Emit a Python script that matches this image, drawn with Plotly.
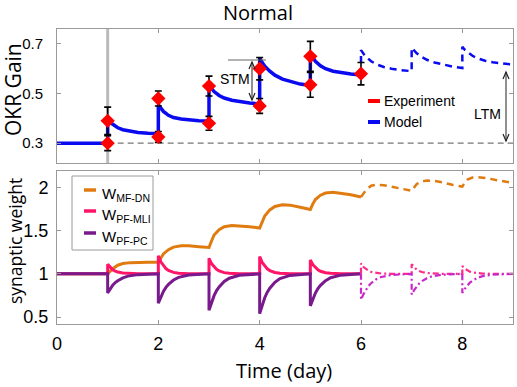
import plotly.graph_objects as go

# ---------------- data ----------------
x_ticks = [0, 2, 4, 6, 8]
gain_ticks = [0.3, 0.5, 0.7]
weight_ticks = [0.5, 1, 1.5, 2]

# experiment (mean +- error), pre/post training each day
exp_day = [1, 1, 2, 2, 3, 3, 4, 4, 5, 5, 6]
exp_gain = [0.30, 0.39, 0.325, 0.48, 0.38, 0.53, 0.45, 0.60, 0.535, 0.65, 0.58]
exp_err = [0.03, 0.055, 0.022, 0.03, 0.028, 0.04, 0.03, 0.045, 0.05, 0.06, 0.045]

# model OKR gain: baseline, then one sampled profile per day
gain_base_day = [0, 1]
gain_base = [0.30, 0.30]
gain_offsets = [0, 0.05, 0.1, 0.2, 0.3, 0.45, 0.6, 0.8, 1.0]
gain_train_days = [1, 2, 3, 4, 5]
gain_train = [
    [0.390, 0.383, 0.375, 0.362, 0.354, 0.347, 0.343, 0.340, 0.338],
    [0.455, 0.440, 0.428, 0.412, 0.403, 0.397, 0.393, 0.390, 0.389],
    [0.535, 0.520, 0.508, 0.492, 0.482, 0.473, 0.467, 0.462, 0.458],
    [0.643, 0.625, 0.610, 0.590, 0.574, 0.558, 0.548, 0.538, 0.532],
    [0.665, 0.645, 0.630, 0.612, 0.600, 0.590, 0.584, 0.579, 0.575],
]
gain_pred_days = [6, 7, 8]
gain_pred = [
    [0.675, 0.660, 0.648, 0.630, 0.618, 0.607, 0.600, 0.594, 0.590],
    [0.684, 0.672, 0.662, 0.647, 0.636, 0.625, 0.617, 0.609, 0.603],
    [0.688, 0.676, 0.667, 0.652, 0.642, 0.632, 0.626, 0.620, 0.616],
]

# synaptic weights
w_base_day = [0, 1]
w_base = [1.0, 1.0]
mf_offsets = [0, 0.05, 0.1, 0.2, 0.3, 0.45, 0.6, 0.8, 1.0]
mf_train = [
    [1.000, 1.030, 1.060, 1.100, 1.120, 1.130, 1.135, 1.135, 1.135],
    [1.135, 1.180, 1.230, 1.280, 1.310, 1.325, 1.325, 1.315, 1.305],
    [1.305, 1.380, 1.450, 1.510, 1.545, 1.560, 1.555, 1.545, 1.530],
    [1.530, 1.600, 1.670, 1.740, 1.780, 1.800, 1.795, 1.770, 1.745],
    [1.745, 1.810, 1.860, 1.910, 1.935, 1.945, 1.935, 1.915, 1.890],
]
mf_pred = [
    [1.890, 1.930, 1.970, 2.020, 2.030, 2.025, 2.010, 1.985, 1.960],
    [1.960, 2.000, 2.040, 2.070, 2.080, 2.075, 2.060, 2.030, 2.010],
    [2.010, 2.060, 2.090, 2.115, 2.120, 2.110, 2.095, 2.075, 2.050],
]
fast_offsets = [0, 0.05, 0.1, 0.15, 0.2, 0.3, 0.4, 0.6, 1.0]
mli_train = [
    [1.11, 1.073, 1.048, 1.032, 1.021, 1.009, 1.004, 1.001, 1.0],
    [1.21, 1.139, 1.092, 1.061, 1.040, 1.017, 1.007, 1.001, 1.0],
    [1.18, 1.119, 1.079, 1.052, 1.034, 1.014, 1.006, 1.001, 1.0],
    [1.20, 1.132, 1.088, 1.058, 1.038, 1.016, 1.007, 1.001, 1.0],
    [1.16, 1.106, 1.070, 1.046, 1.030, 1.013, 1.006, 1.001, 1.0],
]
mli_pred = [
    [1.12, 1.079, 1.053, 1.035, 1.023, 1.010, 1.004, 1.001, 1.0],
    [1.11, 1.073, 1.048, 1.032, 1.021, 1.009, 1.004, 1.001, 1.0],
    [1.09, 1.059, 1.040, 1.026, 1.017, 1.007, 1.003, 1.001, 1.0],
]
pc_train = [
    [0.78, 0.828, 0.868, 0.899, 0.921, 0.954, 0.974, 0.991, 1.0],
    [0.66, 0.735, 0.796, 0.844, 0.878, 0.929, 0.959, 0.986, 1.0],
    [0.58, 0.672, 0.748, 0.807, 0.849, 0.912, 0.950, 0.983, 1.0],
    [0.54, 0.641, 0.724, 0.788, 0.834, 0.903, 0.945, 0.982, 1.0],
    [0.63, 0.711, 0.778, 0.830, 0.867, 0.922, 0.956, 0.985, 1.0],
]
pc_pred = [
    [0.70, 0.766, 0.820, 0.862, 0.892, 0.937, 0.964, 0.988, 1.0],
    [0.76, 0.813, 0.856, 0.890, 0.914, 0.950, 0.971, 0.990, 1.0],
    [0.78, 0.828, 0.868, 0.899, 0.921, 0.954, 0.974, 0.991, 1.0],
]


def build(days, offsets, profiles, start_x=None, start_y=None):
    xs, ys = [], []
    if start_x is not None:
        xs += list(start_x)
        ys += list(start_y)
    for d, prof in zip(days, profiles):
        xs += [d + o for o in offsets]
        ys += list(prof)
    return xs, ys


BLUE = "#0A0AF0"
RED = "#FF0000"
ORANGE = "#E07B10"
PINK = "#FF1468"
PURPLE = "#781A8C"
PINK2 = "#FF2A8A"
PURPLE2 = "#C828C8"
GRID = "#9a9a9a"

fig = go.Figure()

# top panel
gx, gy = build(gain_train_days, gain_offsets, gain_train, gain_base_day, gain_base)
fig.add_trace(go.Scatter(x=gx, y=gy, mode="lines", line=dict(color=BLUE, width=3.5),
                         xaxis="x", yaxis="y", showlegend=False, hoverinfo="skip"))
px_, py_ = build(gain_pred_days, gain_offsets, gain_pred, [gx[-1]], [gy[-1]])
fig.add_trace(go.Scatter(x=px_, y=py_, mode="lines",
                         line=dict(color=BLUE, width=2.5, dash="7px,5px"),
                         xaxis="x", yaxis="y", showlegend=False, hoverinfo="skip"))
fig.add_trace(go.Scatter(x=exp_day, y=exp_gain, mode="markers",
                         marker=dict(symbol="diamond", size=11, color=RED),
                         error_y=dict(type="data", array=exp_err, color="black",
                                      thickness=1.6, width=3.5),
                         xaxis="x", yaxis="y", showlegend=False))

# bottom panel
mx, my = build(gain_train_days, mf_offsets, mf_train, w_base_day, w_base)
fig.add_trace(go.Scatter(x=mx, y=my, mode="lines", line=dict(color=ORANGE, width=3),
                         xaxis="x2", yaxis="y2", showlegend=False))
mpx, mpy = build(gain_pred_days, mf_offsets, mf_pred, [mx[-1]], [my[-1]])
fig.add_trace(go.Scatter(x=mpx, y=mpy, mode="lines",
                         line=dict(color=ORANGE, width=2.5, dash="7px,5px"),
                         xaxis="x2", yaxis="y2", showlegend=False))
lx, ly = build(gain_train_days, fast_offsets, mli_train, w_base_day, w_base)
fig.add_trace(go.Scatter(x=lx, y=ly, mode="lines", line=dict(color=PINK, width=3),
                         xaxis="x2", yaxis="y2", showlegend=False))
cx, cy = build(gain_train_days, fast_offsets, pc_train, w_base_day, w_base)
fig.add_trace(go.Scatter(x=cx, y=cy, mode="lines", line=dict(color=PURPLE, width=3),
                         xaxis="x2", yaxis="y2", showlegend=False))
lpx, lpy = build(gain_pred_days, fast_offsets, mli_pred, [6], [1.0])
fig.add_trace(go.Scatter(x=lpx, y=lpy, mode="lines",
                         line=dict(color=PINK2, width=2.2, dash="6px,3px,2px,3px"),
                         xaxis="x2", yaxis="y2", showlegend=False))
cpx, cpy = build(gain_pred_days, fast_offsets, pc_pred, [6], [1.0])
fig.add_trace(go.Scatter(x=cpx + [9], y=cpy + [1.0], mode="lines",
                         line=dict(color=PURPLE2, width=2.2, dash="6px,3px,2px,3px"),
                         xaxis="x2", yaxis="y2", showlegend=False))

# ---------------- layout ----------------
L, R, T, B = 57, 513, 29, 324
W, H = 517, 387


def PX(p):
    return (p - L) / (R - L)


def PY(p):
    return (B - p) / (B - T)


TXT = "Liberation Sans, Arial"
TTL = "Open Sans"
axis_common = dict(showline=True, mirror="ticks", linecolor=GRID, linewidth=1,
                   ticks="inside", ticklen=4, tickcolor=GRID, showgrid=False,
                   zeroline=False, automargin=False)
top_dom = [PY(163), 1]
bot_dom = [0, PY(171)]

fig.update_layout(
    width=W, height=H,
    margin=dict(l=L, r=W - R, t=T, b=H - B, autoexpand=False),
    paper_bgcolor="white", plot_bgcolor="white",
    xaxis=dict(domain=[0, 1], range=[0, 9], tickvals=x_ticks, showticklabels=False,
               anchor="y", **axis_common),
    yaxis=dict(domain=top_dom, range=[0.22, 0.76], tickvals=gain_ticks,
               tickformat=".1f", anchor="x", ticklabelstandoff=10,
               tickfont=dict(family=TXT, size=15, color="black"), **axis_common),
    xaxis2=dict(domain=[0, 1], range=[0, 9], tickvals=x_ticks, anchor="y2",
                ticklabelstandoff=3,
                tickfont=dict(family=TXT, size=18, color="black"), **axis_common),
    yaxis2=dict(domain=bot_dom, range=[0.42, 2.19], tickvals=weight_ticks, anchor="x2",
                ticklabelstandoff=4,
                tickfont=dict(family=TXT, size=18, color="black"), **axis_common),
)

shapes = []
# gray vertical line at training onset, dashed baseline
shapes.append(dict(type="line", xref="x", yref="paper", x0=1, x1=1, y0=PY(163), y1=1,
                   line=dict(color="#BBBBBB", width=3), layer="below"))
shapes.append(dict(type="line", xref="x", yref="y", x0=1, x1=9, y0=0.3, y1=0.3,
                   line=dict(color="#777777", width=1.2, dash="6px,4px"), layer="below"))
# STM top reference line
shapes.append(dict(type="line", xref="paper", yref="paper", x0=PX(228), x1=PX(266),
                   y0=PY(60), y1=PY(60), line=dict(color="#666666", width=1)))
# double arrows (STM, LTM) drawn as lines with V heads
for (xa, y0, y1) in [(252, 62, 100), (506, 72, 141)]:
    shapes.append(dict(type="line", xref="paper", yref="paper", x0=PX(xa), x1=PX(xa),
                       y0=PY(y0), y1=PY(y1), line=dict(color="#222222", width=1)))
    up = "M {},{} L {},{} L {},{}".format(PX(xa - 3), PY(y0 + 7), PX(xa), PY(y0), PX(xa + 3), PY(y0 + 7))
    dn = "M {},{} L {},{} L {},{}".format(PX(xa - 3), PY(y1 - 7), PX(xa), PY(y1), PX(xa + 3), PY(y1 - 7))
    for p in (up, dn):
        shapes.append(dict(type="path", xref="paper", yref="paper", path=p,
                           line=dict(color="#222222", width=1.2)))
# top legend samples
shapes.append(dict(type="line", xref="paper", yref="paper", x0=PX(368), x1=PX(380),
                   y0=PY(101), y1=PY(101), line=dict(color=RED, width=4)))
shapes.append(dict(type="line", xref="paper", yref="paper", x0=PX(368), x1=PX(380),
                   y0=PY(122), y1=PY(122), line=dict(color=BLUE, width=4)))
# bottom legend box and samples
shapes.append(dict(type="rect", xref="paper", yref="paper", x0=PX(72), x1=PX(153),
                   y0=PY(250), y1=PY(176), line=dict(color=GRID, width=1), fillcolor="white"))
for yy, col in [(190, ORANGE), (211, PINK), (233, PURPLE)]:
    shapes.append(dict(type="line", xref="paper", yref="paper", x0=PX(84), x1=PX(96),
                       y0=PY(yy), y1=PY(yy), line=dict(color=col, width=3.5)))
fig.update_layout(shapes=shapes)

ann = []
ann.append(dict(text="Normal", xref="paper", yref="paper", x=PX(258), y=PY(12),
                showarrow=False, font=dict(family=TTL, size=20, color="black"),
                xanchor="center", yanchor="middle"))
ann.append(dict(text="OKR Gain", xref="paper", yref="paper", x=PX(13), y=PY(90),
                showarrow=False, textangle=-90, font=dict(family=TTL, size=21, color="black"),
                xanchor="center", yanchor="middle"))
ann.append(dict(text="synaptic weight", xref="paper", yref="paper", x=PX(15), y=PY(241),
                showarrow=False, textangle=-90, font=dict(family=TTL, size=17.5, color="black"),
                xanchor="center", yanchor="middle"))
ann.append(dict(text="Time (day)", xref="paper", yref="paper", x=PX(284), y=PY(370),
                showarrow=False, font=dict(family=TTL, size=20, color="black"),
                xanchor="center", yanchor="middle"))
ann.append(dict(text="Experiment", xref="paper", yref="paper", x=PX(382), y=PY(101),
                showarrow=False, font=dict(family=TXT, size=14, color="black"),
                xanchor="left", yanchor="middle"))
ann.append(dict(text="Model", xref="paper", yref="paper", x=PX(382), y=PY(122),
                showarrow=False, font=dict(family=TXT, size=14, color="black"),
                xanchor="left", yanchor="middle"))
ann.append(dict(text="STM", xref="paper", yref="paper", x=PX(235), y=PY(79),
                showarrow=False, font=dict(family=TXT, size=14, color="black"),
                xanchor="center", yanchor="middle"))
ann.append(dict(text="LTM", xref="paper", yref="paper", x=PX(487), y=PY(114),
                showarrow=False, font=dict(family=TXT, size=14, color="black"),
                xanchor="center", yanchor="middle"))
for yy, sub in [(190, "MF-DN"), (211, "PF-MLI"), (233, "PF-PC")]:
    ann.append(dict(text="W<sub>" + sub + "</sub>", xref="paper", yref="paper", x=PX(100), y=PY(yy + 4),
                    showarrow=False, font=dict(family=TXT, size=15, color="black"),
                    xanchor="left", yanchor="middle"))
fig.update_layout(annotations=ann)

fig.write_html("out.html", config={"displayModeBar": False},
               post_script="document.body.style.margin='0';document.body.style.overflow='hidden';")
